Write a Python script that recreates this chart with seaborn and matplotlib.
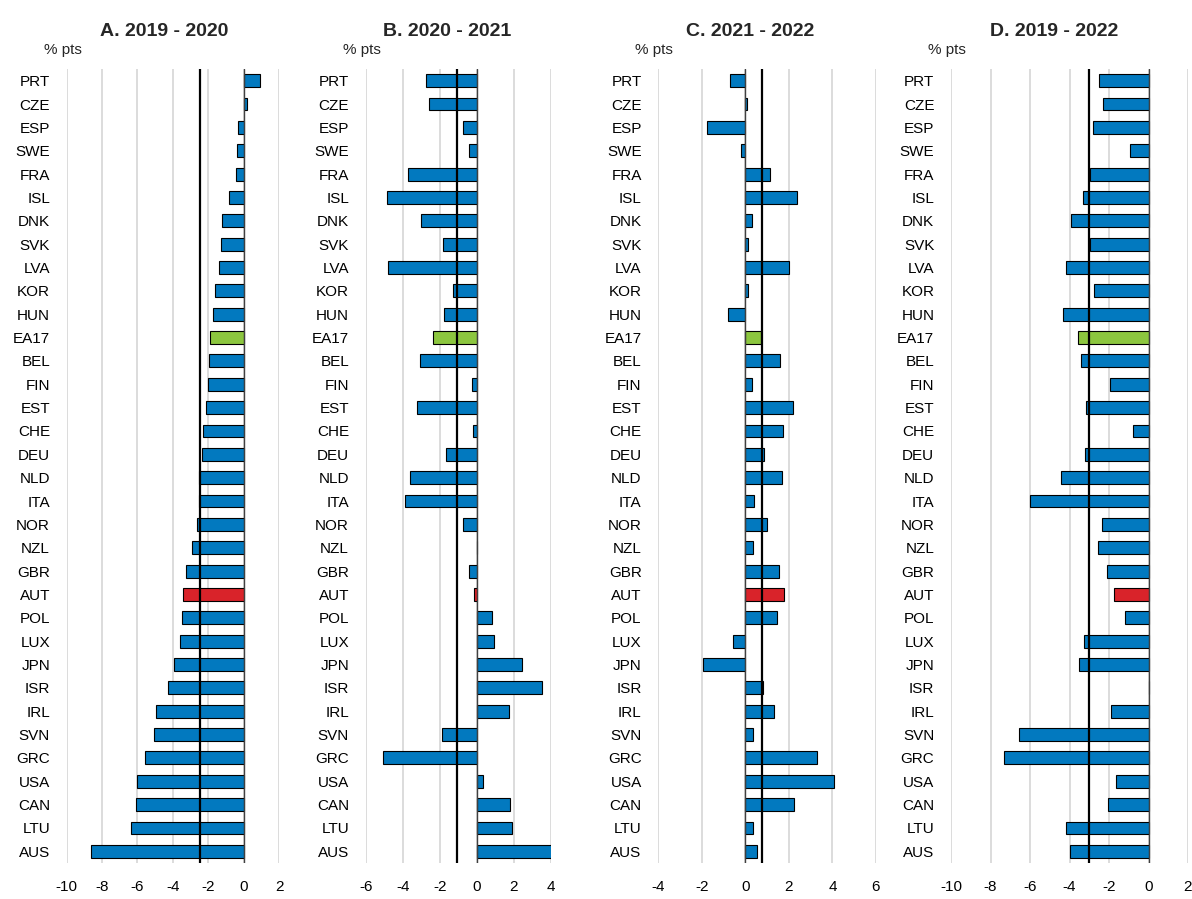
import matplotlib
matplotlib.use("Agg")
import matplotlib.pyplot as plt
import seaborn as sns
import pandas as pd

countries = ["PRT", "CZE", "ESP", "SWE", "FRA", "ISL", "DNK", "SVK", "LVA", "KOR",
             "HUN", "EA17", "BEL", "FIN", "EST", "CHE", "DEU", "NLD", "ITA", "NOR",
             "NZL", "GBR", "AUT", "POL", "LUX", "JPN", "ISR", "IRL", "SVN", "GRC",
             "USA", "CAN", "LTU", "AUS"]

chg_2019_2020 = [0.9, 0.17, -0.32, -0.36, -0.41, -0.85, -1.2, -1.3, -1.41, -1.6,
                 -1.73, -1.92, -1.95, -2.01, -2.14, -2.29, -2.37, -2.5, -2.52, -2.61,
                 -2.91, -3.27, -3.4, -3.46, -3.61, -3.95, -4.27, -4.96, -5.04, -5.55,
                 -6.05, -6.07, -6.39, -8.63]
chg_2020_2021 = [-2.72, -2.57, -0.74, -0.43, -3.74, -4.84, -3.04, -1.85, -4.8, -1.28,
                 -1.78, -2.39, -3.08, -0.29, -3.22, -0.22, -1.69, -3.63, -3.9, -0.77,
                 0.02, -0.41, -0.14, 0.83, 0.9, 2.41, 3.49, 1.74, -1.89, -5.09,
                 0.31, 1.8, 1.87, 4.14]
chg_2021_2022 = [-0.72, 0.08, -1.78, -0.21, 1.15, 2.37, 0.32, 0.14, 2.0, 0.12,
                 -0.8, 0.7, 1.58, 0.32, 2.2, 1.72, 0.87, 1.68, 0.41, 1.01,
                 0.34, 1.56, 1.76, 1.45, -0.55, -1.96, 0.8, 1.33, 0.37, 3.29,
                 4.09, 2.22, 0.37, 0.52]
chg_2019_2022 = [-2.53, -2.3, -2.82, -0.96, -2.94, -3.31, -3.92, -2.94, -4.19, -2.74,
                 -4.31, -3.56, -3.41, -1.94, -3.18, -0.78, -3.21, -4.43, -6.01, -2.35,
                 -2.55, -2.11, -1.77, -1.17, -3.28, -3.53, 0.02, -1.88, -6.55, -7.33,
                 -1.64, -2.04, -4.17, -3.95]

# vertical reference line (average) per panel
avg_lines = [-2.45, -1.06, 0.75, -3.0]
titles = ["A. 2019 - 2020", "B. 2020 - 2021", "C. 2021 - 2022", "D. 2019 - 2022"]
xlims = [(-10, 2), (-6, 4), (-4, 6), (-10, 2)]

BLUE = "#0279BF"
GREEN = "#8CC63F"
RED = "#D9232A"
palette = {c: BLUE for c in countries}
palette["EA17"] = GREEN
palette["AUT"] = RED

sns.set_style("white")
plt.rcParams["font.family"] = ["Liberation Sans", "DejaVu Sans"]
plt.rcParams["axes.unicode_minus"] = False
fs, fs_title = 11, 14

W, H = 1192, 899
fig = plt.figure(figsize=(W / 100, H / 100), dpi=100)

# axes left/right in pixels (gridline extents)
boxes = [(66.7, 279), (365.7, 551), (658.3, 876), (951, 1188)]
title_x = [164, 447, 750, 1054]
top_px, bot_px = 69, 863

series = [chg_2019_2020, chg_2020_2021, chg_2021_2022, chg_2019_2022]
for i, vals in enumerate(series):
    l, r = boxes[i]
    ax = fig.add_axes([l / W, 1 - bot_px / H, (r - l) / W, (bot_px - top_px) / H])
    df = pd.DataFrame({"country": countries, "value": vals})
    sns.barplot(data=df, x="value", y="country", hue="country", palette=palette,
                legend=False, orient="h", width=0.55, edgecolor="black",
                linewidth=0.8, saturation=1, ax=ax, zorder=3)
    lo, hi = xlims[i]
    ax.set_xlim(lo, hi)
    ax.set_ylim(len(countries) - 0.5, -0.5)
    ax.set_xticks(range(lo, hi + 1, 2))
    ax.grid(axis="x", color="#dcdcdc", linewidth=1.4, zorder=0)
    ax.grid(axis="y", visible=False)
    for s in ax.spines.values():
        s.set_visible(False)
    ax.axvline(0, color="#404040", linewidth=1.0, zorder=4)
    ax.axvline(avg_lines[i], color="black", linewidth=1.6, zorder=5)
    ax.tick_params(axis="both", length=0, labelsize=fs, colors="black")
    ax.tick_params(axis="y", pad=12)
    ax.tick_params(axis="x", pad=12)
    ax.set_xlabel("")
    ax.set_ylabel("")
    fig.text(title_x[i] / W, 1 - 31 / H, titles[i], ha="center", va="center",
             fontsize=fs_title, fontweight="bold")
    fig.text((l - 4) / W, 1 - 50 / H, "% pts", ha="center", va="center",
             fontsize=fs)

fig.savefig("out.png", dpi=100)
